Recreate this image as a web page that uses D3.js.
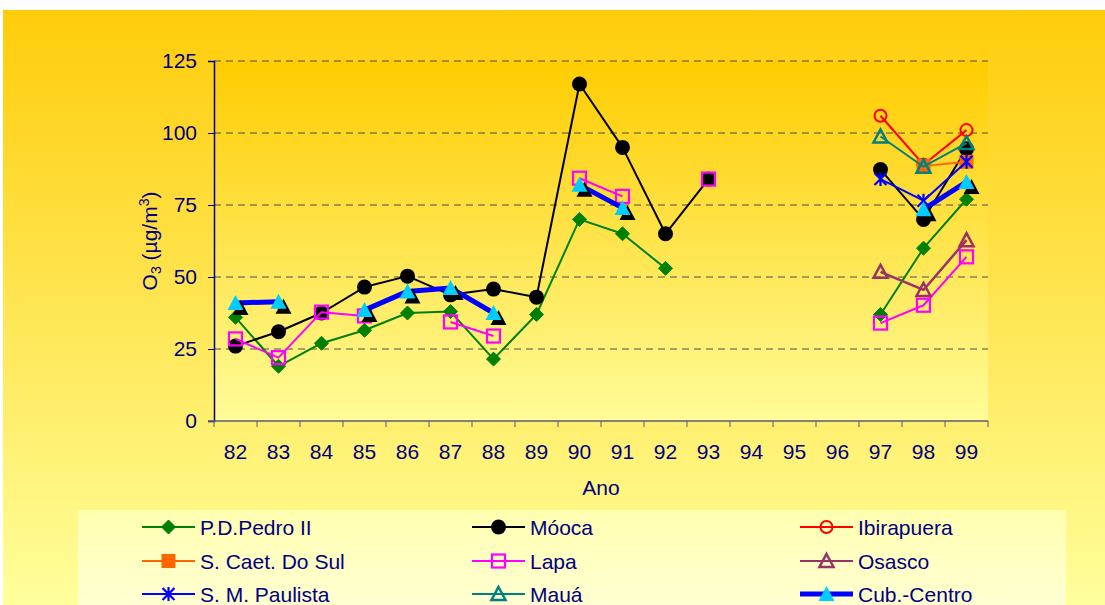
<!DOCTYPE html>
<html>
<head>
<meta charset="utf-8">
<script src="https://cdn.jsdelivr.net/npm/d3@7"></script>
<style>
  html, body { margin: 0; padding: 0; background: #ffffff; }
  svg { display: block; }
  text { font-family: "Liberation Sans", Arial, sans-serif; fill: #000080; }
</style>
</head>
<body>
<svg id="chart" width="1105" height="605"></svg>
<script>
// Years on the category axis
const years = ["82","83","84","85","86","87","88","89","90","91","92","93","94","95","96","97","98","99"];
const yTicks = [0, 25, 50, 75, 100, 125];

// Annual O3 values per station (µg/m³), null where no measurement
const pedro    = [36, 19, 27, 31.5, 37.5, 38, 21.5, 37, 70, 65, 53, null, null, null, null, 37, 60, 77];
const mooca    = [26, 31, 37.5, 46.5, 50.3, 43.8, 45.8, 43, 117, 95, 65, 84, null, null, null, 87.3, 70, 94.5];
const ibira    = [null, null, null, null, null, null, null, null, null, null, null, null, null, null, null, 106, 89, 101];
const scaet    = [null, null, null, null, null, null, null, null, null, null, null, null, null, null, null, null, 88.5, 90];
const lapa     = [28.5, 22, 37.8, 36.5, null, 34.4, 29.5, null, 84.3, 78, null, 84, null, null, null, 34, 40.2, 57];
const osasco   = [null, null, null, null, null, null, null, null, null, null, null, null, null, null, null, 51.8, 45.5, 62.8];
const smpaul   = [null, null, null, null, null, null, null, null, null, null, null, null, null, null, null, 84, 76.5, 90];
const maua     = [null, null, null, null, null, null, null, null, null, null, null, null, null, null, null, 98.8, 88.3, 96.5];
const cubatao  = [41, 41.4, null, 38.5, 45, 46.2, 37.5, null, 82, 74, null, null, null, null, null, null, 73.5, 83];

const series = [
  { name: "P.D.Pedro II",     values: pedro,   color: "#008000", width: 2,   marker: "diamond" },
  { name: "Móoca",            values: mooca,   color: "#000000", width: 2,   marker: "circle" },
  { name: "Ibirapuera",       values: ibira,   color: "#FF0000", width: 2,   marker: "ocircle" },
  { name: "S. Caet. Do Sul",  values: scaet,   color: "#FF6600", width: 2,   marker: "square" },
  { name: "Lapa",             values: lapa,    color: "#FF00FF", width: 2,   marker: "osquare" },
  { name: "Osasco",           values: osasco,  color: "#993366", width: 2.5, marker: "otriangle" },
  { name: "S. M. Paulista",   values: smpaul,  color: "#0000FF", width: 2,   marker: "asterisk" },
  { name: "Mauá",             values: maua,    color: "#008080", width: 2,   marker: "otriangle" },
  { name: "Cub.-Centro",      values: cubatao, color: "#0000FF", width: 5,   marker: "ftriangle", fill: "#00CCFF" }
];

const FONT = "21px";

const svg = d3.select("#chart");
const defs = svg.append("defs");

function vgrad(id, stops) {
  const g = defs.append("linearGradient").attr("id", id)
    .attr("x1", 0).attr("y1", 0).attr("x2", 0).attr("y2", 1);
  stops.forEach(([o, c]) => g.append("stop").attr("offset", o).attr("stop-color", c));
}
vgrad("bgGrad",   [[0, "#FFCC0A"], [1, "#FFFF9C"]]);
vgrad("plotGrad", [[0, "#FFCC00"], [1, "#FFFC98"]]);
vgrad("legGrad",  [[0, "#FFFFB0"], [1, "#FFFFD2"]]);

// Chart background
svg.append("rect").attr("x", 3).attr("y", 10).attr("width", 1102).attr("height", 595)
  .attr("fill", "url(#bgGrad)");

const plot = { left: 214, right: 988, top: 61, bottom: 421 };

const x = d3.scaleBand().domain(years).range([plot.left, plot.right]).padding(0);
const y = d3.scaleLinear().domain([0, 125]).range([plot.bottom, plot.top]);

// Plot area fill
svg.append("rect").attr("x", plot.left).attr("y", plot.top)
  .attr("width", plot.right - plot.left).attr("height", plot.bottom - plot.top)
  .attr("fill", "url(#plotGrad)");

// Horizontal dashed gridlines
svg.append("g").selectAll("line").data(yTicks.filter(d => d > 0)).join("line")
  .attr("x1", plot.left).attr("x2", plot.right)
  .attr("y1", d => y(d)).attr("y2", d => y(d))
  .attr("stroke", "#4d4d4d").attr("stroke-width", 1).attr("stroke-dasharray", "7,5");

// Y axis
const yAxis = svg.append("g").attr("transform", `translate(${plot.left},0)`)
  .call(d3.axisLeft(y).tickValues(yTicks).tickSize(6).tickPadding(11));
yAxis.select(".domain").attr("stroke", "#000080").attr("stroke-width", 1.5);
yAxis.selectAll(".tick line").attr("stroke", "#000080");
yAxis.selectAll("text").style("font-size", FONT).attr("fill", "#000080")
  .style("font-family", "Liberation Sans, Arial, sans-serif");

// X axis with ticks at category boundaries
const xAxisG = svg.append("g").attr("transform", `translate(0,${plot.bottom})`);
xAxisG.append("line").attr("x1", plot.left - 6).attr("x2", plot.right)
  .attr("y1", 0).attr("y2", 0).attr("stroke", "#5a5a7a").attr("stroke-width", 1.5);
const boundaries = years.map(d => x(d)).concat([x(years[years.length - 1]) + x.bandwidth()]);
xAxisG.selectAll("line.tk").data(boundaries).join("line").attr("class", "tk")
  .attr("x1", d => d).attr("x2", d => d).attr("y1", 0).attr("y2", 6)
  .attr("stroke", "#5a5a7a").attr("stroke-width", 1);
xAxisG.selectAll("text").data(years).join("text")
  .attr("x", d => x(d) + x.bandwidth() / 2).attr("y", 38)
  .attr("text-anchor", "middle").style("font-size", FONT).text(d => d);

// Axis titles
svg.append("text").attr("x", (plot.left + plot.right) / 2).attr("y", 495)
  .attr("text-anchor", "middle").style("font-size", FONT).text("Ano");

const yt = svg.append("text")
  .attr("transform", `translate(157,${(plot.top + plot.bottom) / 2}) rotate(-90)`)
  .attr("text-anchor", "middle").style("font-size", FONT);
yt.append("tspan").text("O");
yt.append("tspan").attr("baseline-shift", "-25%").style("font-size", "14px").text("3");
yt.append("tspan").text(" (µg/m");
yt.append("tspan").attr("baseline-shift", "super").style("font-size", "14px").text("3");
yt.append("tspan").text(")");

// Marker drawing
function drawMarker(g, s, cx, cy, legend) {
  const c = s.color;
  switch (s.marker) {
    case "diamond":
      g.append("path").attr("d", `M${cx},${cy - 7}L${cx + 7},${cy}L${cx},${cy + 7}L${cx - 7},${cy}Z`)
        .attr("fill", c).attr("stroke", c);
      break;
    case "circle":
      g.append("circle").attr("cx", cx).attr("cy", cy).attr("r", 7.5).attr("fill", c);
      break;
    case "ocircle":
      g.append("circle").attr("cx", cx).attr("cy", cy).attr("r", 6)
        .attr("fill", "none").attr("stroke", c).attr("stroke-width", 2);
      break;
    case "square":
      g.append("rect").attr("x", cx - 7).attr("y", cy - 7).attr("width", 14).attr("height", 14).attr("fill", c);
      break;
    case "osquare":
      g.append("rect").attr("x", cx - 6.5).attr("y", cy - 6.5).attr("width", 13).attr("height", 13)
        .attr("fill", "none").attr("stroke", c).attr("stroke-width", 2.2);
      break;
    case "otriangle":
      g.append("path").attr("d", `M${cx},${cy - 7}L${cx + 7},${cy + 6}L${cx - 7},${cy + 6}Z`)
        .attr("fill", "none").attr("stroke", c).attr("stroke-width", 2.5).attr("stroke-linejoin", "miter");
      break;
    case "asterisk":
      g.append("path")
        .attr("d", `M${cx},${cy - 7}L${cx},${cy + 7}M${cx - 6},${cy - 6}L${cx + 6},${cy + 6}M${cx + 6},${cy - 6}L${cx - 6},${cy + 6}`)
        .attr("stroke", c).attr("stroke-width", 2.2).attr("fill", "none");
      break;
    case "ftriangle":
      if (!legend) {
        g.append("path").attr("d", `M${cx + 5},${cy - 3}L${cx + 13},${cy + 12}L${cx - 3},${cy + 12}Z`)
          .attr("fill", "#000000");
      }
      g.append("path").attr("d", `M${cx},${cy - 8}L${cx + 8},${cy + 7}L${cx - 8},${cy + 7}Z`)
        .attr("fill", s.fill);
      break;
  }
}

// Series lines and markers
const line = d3.line()
  .defined(d => d.v != null)
  .x(d => x(d.year) + x.bandwidth() / 2)
  .y(d => y(d.v));

series.forEach(s => {
  const pts = years.map((yr, i) => ({ year: yr, v: s.values[i] }));
  const g = svg.append("g");
  g.append("path").datum(pts).attr("d", line)
    .attr("fill", "none").attr("stroke", s.color).attr("stroke-width", s.width)
    .attr("stroke-linejoin", "round");
  pts.filter(d => d.v != null).forEach(d => {
    drawMarker(g, s, x(d.year) + x.bandwidth() / 2, y(d.v), false);
  });
});

// Legend
svg.append("rect").attr("x", 78).attr("y", 510).attr("width", 988).attr("height", 95)
  .attr("fill", "url(#legGrad)");

const colX = [142, 472, 800];
const rowY = [527, 561, 594];
series.forEach((s, i) => {
  const lx = colX[i % 3], ly = rowY[Math.floor(i / 3)];
  const g = svg.append("g");
  g.append("line").attr("x1", lx).attr("x2", lx + 53).attr("y1", ly).attr("y2", ly)
    .attr("stroke", s.color).attr("stroke-width", s.width === 5 ? 5 : 2);
  drawMarker(g, s, lx + 26.5, ly, true);
  g.append("text").attr("x", lx + 58).attr("y", ly + 7.5).style("font-size", FONT).text(s.name);
});
</script>
</body>
</html>
